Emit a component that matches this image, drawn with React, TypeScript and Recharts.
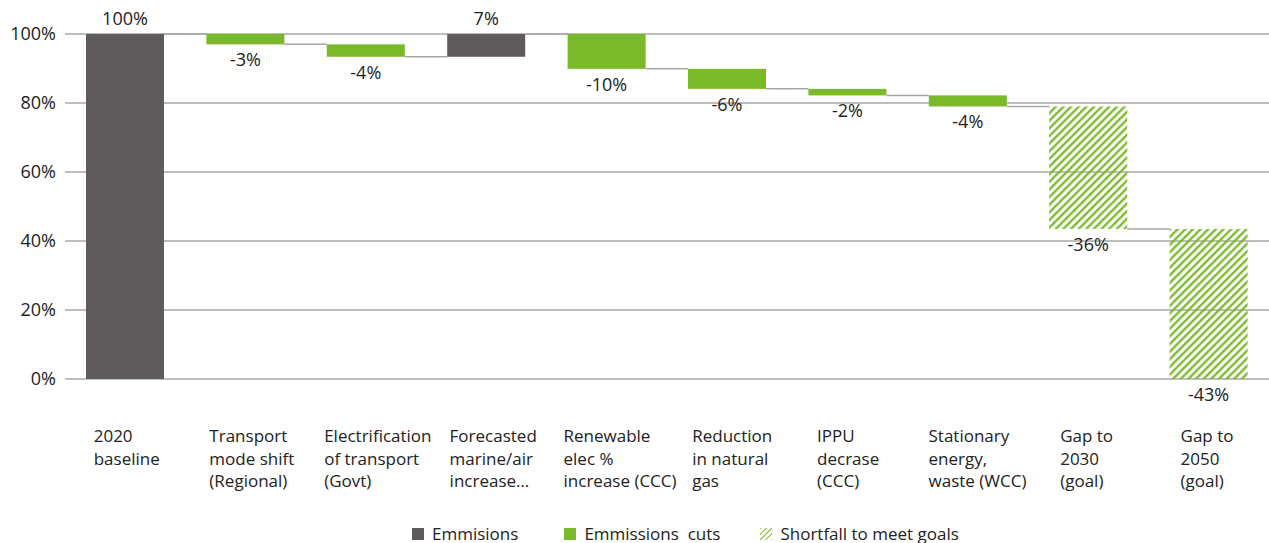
import { BarChart, Bar, XAxis, YAxis, CartesianGrid, Legend, LabelList } from 'recharts';

const categories = [
  '2020\nbaseline',
  'Transport\nmode shift\n(Regional)',
  'Electrification\nof transport\n(Govt)',
  'Forecasted\nmarine/air\nincrease…',
  'Renewable\nelec %\nincrease (CCC)',
  'Reduction\nin natural\ngas',
  'IPPU\ndecrase\n(CCC)',
  'Stationary\nenergy,\nwaste (WCC)',
  'Gap to\n2030\n(goal)',
  'Gap to\n2050\n(goal)',
];
const changes = [100, -3.0, -3.6, 6.6, -10.1, -5.8, -1.9, -3.2, -35.5, -43.5];
const valueLabels = ['100%', '-3%', '-4%', '7%', '-10%', '-6%', '-2%', '-4%', '-36%', '-43%'];
const kinds = ['emission', 'cut', 'cut', 'emission', 'cut', 'cut', 'cut', 'cut', 'shortfall', 'shortfall'];
const yTicks = [0, 20, 40, 60, 80, 100];

const W = 1269;
const H = 543;
const AXIS_W = 65;
const BAR = 78;
const STEP = (W - AXIS_W) / categories.length;
const FONT = '"Open Sans", sans-serif';
const FS = 17;
const NUM_FS = 18;

const GREY = '#5f5a5b';
const GREEN = '#7ab929';

let running = 0;
const data = categories.map((name, i) => {
  const start = i === 0 ? 0 : running;
  const end = start + changes[i];
  running = end;
  return {
    name,
    base: Math.min(start, end),
    size: Math.abs(changes[i]),
    change: changes[i],
    label: valueLabels[i],
    kind: kinds[i],
  };
});

const fillFor = (kind: string) =>
  kind === 'emission' ? GREY : kind === 'cut' ? GREEN : 'url(#hatch)';

let ctx: CanvasRenderingContext2D | null = null;
function textWidth(s: string) {
  if (!ctx) {
    ctx = document.createElement('canvas').getContext('2d');
    if (ctx) ctx.font = `${FS}px ${FONT}`;
  }
  return ctx ? ctx.measureText(s).width : s.length * 8;
}

function StepBar(props: any) {
  const { x, y, width, height, index, payload } = props;
  const last = index === data.length - 1;
  const lineY = payload.change < 0 ? y + height : y;
  return (
    <g>
      <rect x={x} y={y} width={width} height={height} fill={fillFor(payload.kind)} />
      {!last && (
        <line x1={x + width} x2={x + STEP} y1={lineY} y2={lineY} stroke="#a6a6a6" strokeWidth={1.5} />
      )}
    </g>
  );
}

function ValueLabel(props: any) {
  const { x, y, width, height, index, value } = props;
  const up = data[index].change > 0;
  return (
    <text
      x={x + width / 2}
      y={up ? y - 16 : y + height + 15}
      textAnchor="middle"
      dominantBaseline="central"
      fontSize={NUM_FS}
      fill="#222"
    >
      {value}
    </text>
  );
}

function CategoryTick(props: any) {
  const { x, y, payload } = props;
  const lines = String(payload.value).split('\n');
  const maxW = Math.max(...lines.map(textWidth));
  const left = x - (maxW / 2 + 40) / 2 + 5;
  return (
    <text x={left} y={y} fontSize={FS} fill="#222" textAnchor="start">
      {lines.map((l, i) => (
        <tspan key={i} x={left} y={y + 55 + i * 22.5}>
          {l}
        </tspan>
      ))}
    </text>
  );
}

function LegendContent() {
  const items = [
    { label: 'Emmisions', fill: GREY, gap: 46 },
    { label: 'Emmissions\u00a0 cuts', fill: GREEN, gap: 40 },
    { label: 'Shortfall to meet goals', fill: 'hatch', gap: 0 },
  ];
  return (
    <div style={{ display: 'flex', paddingLeft: 412, fontFamily: FONT, fontSize: FS, color: '#222' }}>
      {items.map((it) => (
        <div key={it.label} style={{ display: 'flex', alignItems: 'center', marginRight: it.gap }}>
          <svg width={12} height={12} style={{ marginRight: 8 }}>
            <rect width={12} height={12} fill={it.fill === 'hatch' ? 'url(#hatchSmall)' : it.fill} />
            <defs>
              <pattern id="hatchSmall" patternUnits="userSpaceOnUse" width={4} height={4} patternTransform="rotate(45)">
                <line x1={0} y1={0} x2={0} y2={4} stroke={GREEN} strokeWidth={2} />
              </pattern>
            </defs>
          </svg>
          <span>{it.label}</span>
        </div>
      ))}
    </div>
  );
}

export default function App() {
  return (
    <div style={{ position: 'absolute', left: 0, top: 0, fontFamily: FONT }}>
      <BarChart width={W} height={H} data={data} margin={{ top: 34, right: 0, left: 0, bottom: 0 }} barSize={BAR}>
        <defs>
          <pattern id="hatch" patternUnits="userSpaceOnUse" width={5.4} height={5.4} patternTransform="rotate(45)">
            <line x1={1.2} y1={0} x2={1.2} y2={5.4} stroke={GREEN} strokeWidth={2.3} />
          </pattern>
        </defs>
        <CartesianGrid vertical={false} stroke="#7f7f7f" strokeWidth={1.2} />
        <XAxis dataKey="name" interval={0} tickLine={false} axisLine={false} height={164} tick={<CategoryTick />} />
        <YAxis
          width={AXIS_W}
          domain={[0, 100]}
          ticks={yTicks}
          tickFormatter={(v) => `${v}%`}
          tickLine={false}
          axisLine={false}
          tickSize={0}
          tickMargin={9}
          tick={{ fontSize: NUM_FS, fill: '#222' }}
        />
        <Legend layout="horizontal" verticalAlign="middle" align="center" wrapperStyle={{ top: 522, left: 0, width: W }} content={<LegendContent />} />
        <Bar dataKey="base" stackId="a" fill="transparent" isAnimationActive={false} />
        <Bar dataKey="size" stackId="a" shape={<StepBar />} isAnimationActive={false}>
          <LabelList dataKey="label" content={<ValueLabel />} />
        </Bar>
      </BarChart>
    </div>
  );
}
